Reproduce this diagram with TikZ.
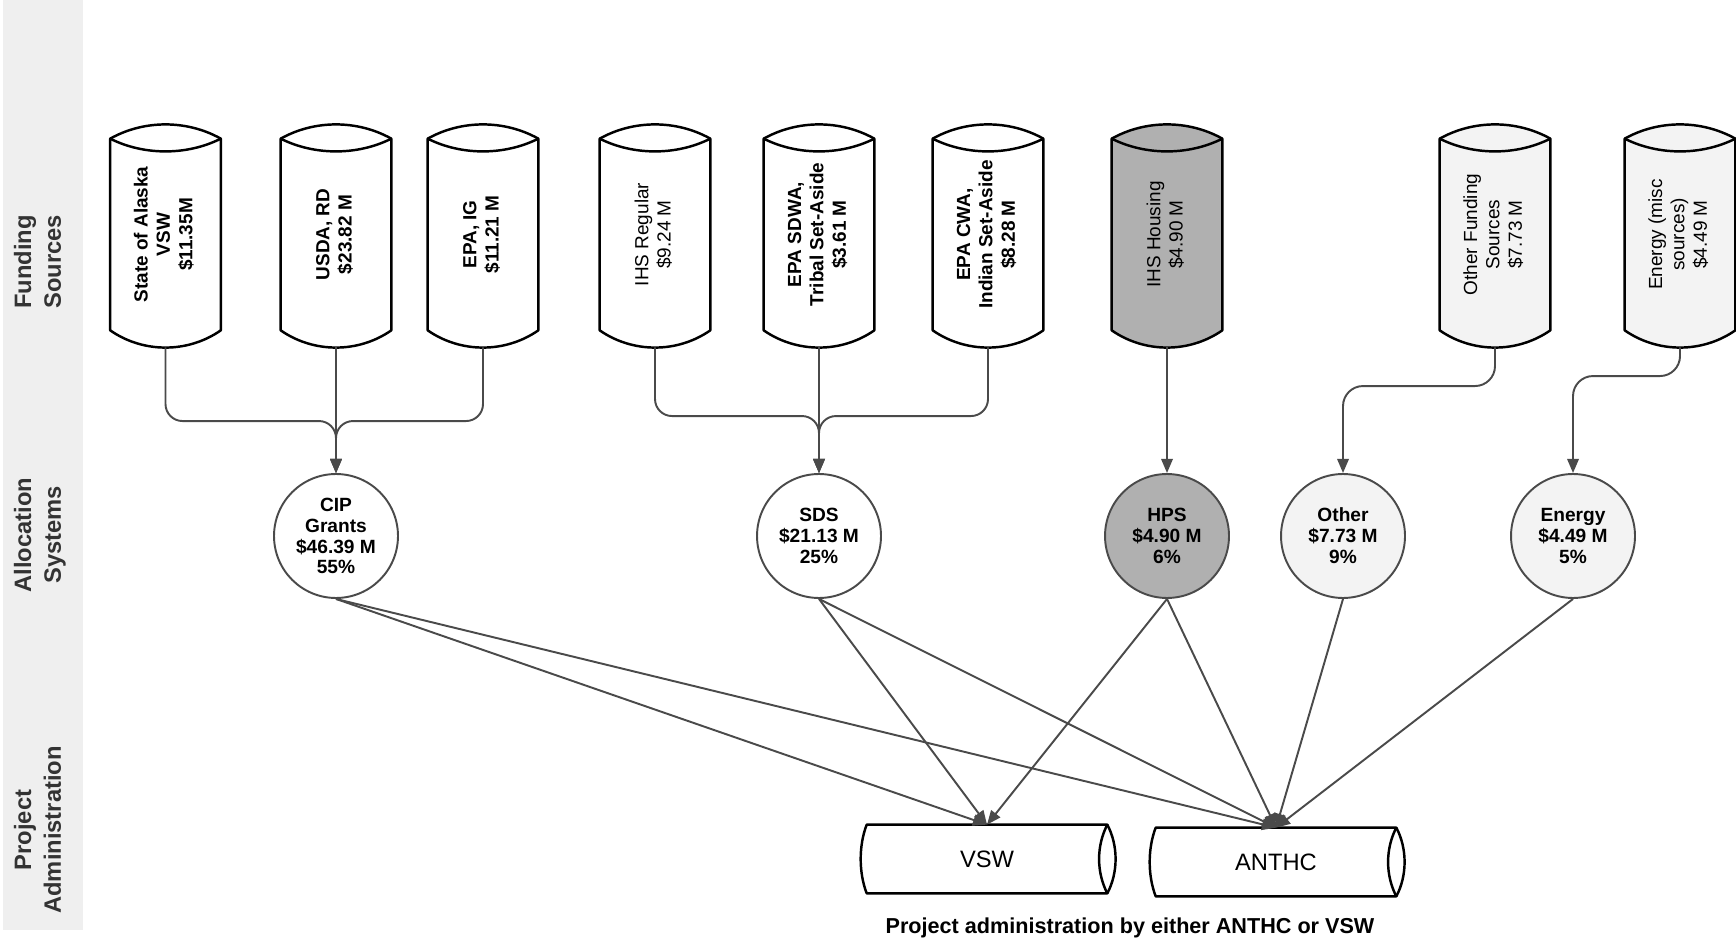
\documentclass[tikz,border=0pt]{standalone}
\usepackage{fontspec}
\setmainfont{Liberation Sans}
\usepackage{graphicx}
\usepackage{tikz}
\usetikzlibrary{calc,arrows.meta,backgrounds}
\definecolor{bandbg}{HTML}{EFEFEF}
\definecolor{bandtext}{HTML}{333333}
\definecolor{linkc}{HTML}{4A4A4A}
\definecolor{housefill}{HTML}{B0B0B0}
\definecolor{softfill}{HTML}{F3F3F3}
\newcommand\vlab[1]{\rotatebox{90}{\begin{tabular}{@{}c@{}}#1\end{tabular}}}
% upright can round a source node
\newcommand\canv[2]{%
  \path[canline, fill=#2] (#1.north west) .. controls +(34,19) and +(-34,19) .. (#1.north east)
    -- (#1.south east) .. controls +(-33,-23) and +(33,-23) .. (#1.south west) -- cycle;
  \draw[canline] (#1.north west) .. controls +(34,-17) and +(-34,-17) .. (#1.north east);
  \coordinate (#1-b) at ($(#1.south)+(0,-17)$);
}
% lying can round an administration node
\newcommand\canh[1]{%
  \path[canline, fill=white] (#1.north west) -- (#1.north east)
    .. controls +(11,-21) and +(11,21) .. (#1.south east) -- (#1.south west)
    .. controls +(-8,21) and +(-8,-21) .. (#1.north west) -- cycle;
  \draw[canline] (#1.north east) .. controls +(-11,-21) and +(-11,21) .. (#1.south east);
}
\tikzset{
  canline/.style={draw=black, line width=1.4pt, line join=round},
  srcbox/.style={rectangle, minimum width=2.2cm, minimum height=3.82cm, inner sep=0pt, font=\fontsize{10.8}{12.7}\selectfont},
  srcb/.style={srcbox, font=\fontsize{10.8}{12.7}\selectfont\bfseries},
  alloc/.style={circle, draw=linkc, line width=1.1pt, fill=white, minimum size=2.48cm, inner sep=0pt, align=center, font=\fontsize{10.9}{11.9}\selectfont\bfseries},
  drumbox/.style={rectangle, minimum width=4.8cm, minimum height=1.36cm, inner sep=0pt, font=\fontsize{13.5}{16}\selectfont},
  bandlab/.style={text=bandtext, inner sep=0pt, font=\fontsize{13.5}{17}\selectfont\bfseries},
  note/.style={inner sep=0pt, font=\fontsize{12.3}{14}\selectfont\bfseries},
  link/.style={draw=linkc, line width=1.1pt, rounded corners=0.34cm},
  feed/.style={link, -{Triangle[length=8pt,width=6.5pt]}},
}

\begin{document}
\begin{tikzpicture}[x=0.02cm, y=0.02cm]
  \useasboundingbox (0,0) rectangle (1736,947);

  % funding sources
  \node[srcb] (alaska) at (165.5,712.5) {\vlab{State of Alaska\\VSW\\\$11.35M}};
  \node[srcb] (usda) at (336,712.5) {\vlab{USDA, RD\\\$23.82 M}};
  \node[srcb] (epaig) at (483,712.5) {\vlab{EPA, IG\\\$11.21 M}};
  \node[srcbox] (ihsreg) at (655,712.5) {\vlab{IHS Regular\\\$9.24 M}};
  \node[srcb] (sdwa) at (819,712.5) {\vlab{EPA SDWA,\\Tribal Set-Aside\\\$3.61 M}};
  \node[srcb] (cwa) at (988,712.5) {\vlab{EPA CWA,\\Indian Set-Aside\\\$8.28 M}};
  \node[srcbox] (housing) at (1167,712.5) {\vlab{IHS Housing\\\$4.90 M}};
  \node[srcbox] (othsrc) at (1495,712.5) {\vlab{Other Funding\\Sources\\\$7.73 M}};
  \node[srcbox] (ensrc) at (1680,712.5) {\vlab{Energy (misc\\sources)\\\$4.49 M}};

  % allocation systems
  \node[alloc] (cip) at (336,411) {CIP\\Grants\\\$46.39 M\\55\%};
  \node[alloc] (sds) at (819,411) {SDS\\\$21.13 M\\25\%};
  \node[alloc, fill=housefill] (hps) at (1167,411) {HPS\\\$4.90 M\\6\%};
  \node[alloc, fill=softfill] (othalloc) at (1343,411) {Other\\\$7.73 M\\9\%};
  \node[alloc, fill=softfill] (enalloc) at (1573,411) {Energy\\\$4.49 M\\5\%};

  % project administration
  \node[drumbox] (vsw) at (987,88) {VSW};
  \node[drumbox] (anthc) at (1276,85) {ANTHC};
  \node[note] (caption) at (1130,19) {Project administration by either ANTHC or VSW};

  \node[bandlab] (fundlab) at (40,685) {\vlab{Funding\\Sources}};
  \node[bandlab] (alloclab) at (40,412) {\vlab{Allocation\\Systems}};
  \node[bandlab] (projlab) at (40,117) {\vlab{Project\\Administration}};

  \begin{scope}[on background layer]
    \fill[white] (0,0) rectangle (1736,947);
    \fill[bandbg] (3,17) rectangle (83,947);
    \foreach \n/\f in {alaska/white,usda/white,epaig/white,ihsreg/white,sdwa/white,cwa/white,housing/housefill,othsrc/softfill,ensrc/softfill}{\canv{\n}{\f}}
    \canh{vsw}
    \canh{anthc}
  \end{scope}

  % sources into allocation
  \draw[feed] (alaska-b) |- ($(cip.north)+(0,52)$) -- (cip.north);
  \draw[feed] (epaig-b) |- ($(cip.north)+(0,52)$) -- (cip.north);
  \draw[feed] (usda-b) -- (cip.north);
  \draw[feed] (ihsreg-b) |- ($(sds.north)+(0,57)$) -- (sds.north);
  \draw[feed] (cwa-b) |- ($(sds.north)+(0,57)$) -- (sds.north);
  \draw[feed] (sdwa-b) -- (sds.north);
  \draw[feed] (housing-b) -- (hps.north);
  \draw[feed, rounded corners=0.4cm] (othsrc-b) |- ($(othalloc.north)+(0,87)$) -- (othalloc.north);
  \draw[feed, rounded corners=0.4cm] (ensrc-b) |- ($(enalloc.north)+(0,97)$) -- (enalloc.north);

  % allocation into administration
  \foreach \s in {cip,sds,hps}{\draw[feed] (\s.south) -- (vsw.north);}
  \foreach \s in {cip,sds,hps,othalloc,enalloc}{\draw[feed] (\s.south) -- (anthc.north);}
\end{tikzpicture}
\end{document}
